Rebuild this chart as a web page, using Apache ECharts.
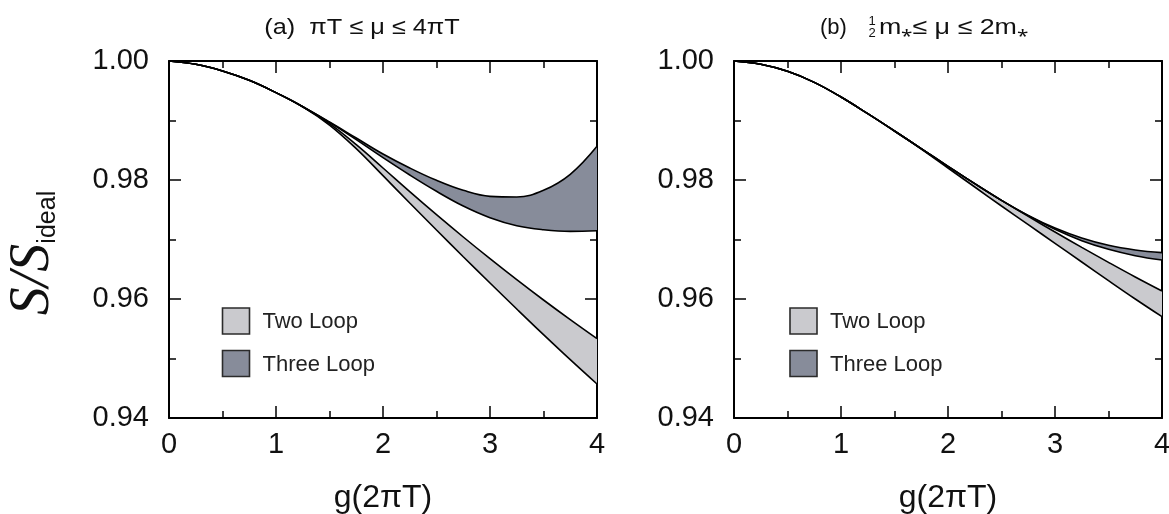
<!DOCTYPE html>
<html>
<head>
<meta charset="utf-8">
<script src="https://cdn.jsdelivr.net/npm/echarts@6/dist/echarts.min.js"></script>
<style>
  html, body { margin: 0; background: #fff; }
  #chart { width: 1169px; height: 514px; }
</style>
</head>
<body>
<div id="chart"></div>
<script>
// x: g(2 pi T)
const gValues = [0, 0.25, 0.5, 0.75, 1, 1.25, 1.5, 1.75, 2, 2.25, 2.5, 2.75, 3, 3.25, 3.5, 3.75, 4];
const xTicks = [0, 1, 2, 3, 4];
const yTicks = [0.94, 0.96, 0.98, 1.00];

// (a) pi T <= mu <= 4 pi T
const twoLoopLowA = [1, 0.99944, 0.99832, 0.99675, 0.99468, 0.99232, 0.98924, 0.98527, 0.98073, 0.97613, 0.97160, 0.96711, 0.96269, 0.95832, 0.95401, 0.94980, 0.94571];
const twoLoopHighA = [1, 0.99944, 0.99832, 0.99675, 0.99468, 0.99232, 0.98947, 0.98594, 0.98202, 0.97804, 0.97417, 0.97042, 0.96678, 0.96325, 0.95983, 0.95653, 0.95333];
const threeLoopLowA = [1, 0.99944, 0.99832, 0.99675, 0.99468, 0.99232, 0.98969, 0.98678, 0.98375, 0.98084, 0.97810, 0.97563, 0.97367, 0.97232, 0.97165, 0.97137, 0.97148];
const threeLoopHighA = [1, 0.99944, 0.99832, 0.99675, 0.99468, 0.99232, 0.98975, 0.98706, 0.98437, 0.98202, 0.97994, 0.97826, 0.97725, 0.97714, 0.97826, 0.98095, 0.98566];

// (b) m*/2 <= mu <= 2 m*
const twoLoopLowB = [1, 0.99944, 0.99826, 0.99641, 0.99395, 0.99115, 0.98824, 0.98521, 0.98202, 0.97882, 0.97563, 0.97249, 0.96936, 0.96622, 0.96308, 0.96000, 0.95703];
const twoLoopHighB = [1, 0.99944, 0.99826, 0.99641, 0.99395, 0.99115, 0.98824, 0.98527, 0.98230, 0.97938, 0.97658, 0.97389, 0.97126, 0.96868, 0.96616, 0.96370, 0.96134];
const threeLoopLowB = [1, 0.99944, 0.99826, 0.99641, 0.99395, 0.99115, 0.98824, 0.98527, 0.98230, 0.97938, 0.97658, 0.97401, 0.97171, 0.96980, 0.96835, 0.96728, 0.96655];
const threeLoopHighB = [1, 0.99944, 0.99826, 0.99641, 0.99395, 0.99115, 0.98824, 0.98527, 0.98230, 0.97938, 0.97658, 0.97406, 0.97193, 0.97025, 0.96902, 0.96824, 0.96779];

const FONT = 'Liberation Sans';
const lightFill = '#cacace';
const darkFill = '#878c9a';

function xAxis(gridIndex, position) {
  const bottom = position === 'bottom';
  return {
    type: 'value', gridIndex, position,
    min: xTicks[0], max: xTicks[xTicks.length - 1], interval: 1,
    axisLine: { show: true, onZero: false, lineStyle: { color: '#000', width: 2 } },
    axisTick: { show: true, inside: true, length: 12, lineStyle: { color: '#000', width: 1.5 } },
    minorTick: { show: true, splitNumber: 2, length: 7, lineStyle: { color: '#000', width: 1.5 } },
    splitLine: { show: false },
    axisLabel: { show: bottom, margin: 12, fontSize: 29, fontFamily: FONT, color: '#111' },
    name: bottom ? 'g(2πT)' : '',
    nameLocation: 'middle', nameGap: 64,
    nameTextStyle: { fontSize: 32, fontFamily: FONT, color: '#111' }
  };
}

function yAxis(gridIndex, position) {
  return {
    type: 'value', gridIndex, position,
    min: yTicks[0], max: yTicks[yTicks.length - 1], interval: 0.02,
    axisLine: { show: true, onZero: false, lineStyle: { color: '#000', width: 2 } },
    axisTick: { show: true, inside: true, length: 12, lineStyle: { color: '#000', width: 1.5 } },
    minorTick: { show: true, splitNumber: 2, length: 7, lineStyle: { color: '#000', width: 1.5 } },
    splitLine: { show: false },
    axisLabel: {
      show: position === 'left', margin: 20, fontSize: 29, fontFamily: FONT, color: '#111',
      formatter: v => v.toFixed(2)
    }
  };
}

// a band = lower edge line + difference stacked on it (filled down to the lower edge).
// value sits in column 0 so the stack works on y, by index.
function band(name, low, high, fill, axisIndex, stackId) {
  const common = {
    type: 'line', xAxisIndex: axisIndex, yAxisIndex: axisIndex, stack: stackId,
    encode: { x: 1, y: 0 },
    smooth: 0.4, symbol: 'none', silent: true,
    lineStyle: { color: '#000', width: 1.6 }
  };
  return [
    Object.assign({}, common, {
      name: name + ' lower',
      data: gValues.map((g, i) => [low[i], g])
    }),
    Object.assign({}, common, {
      name,
      data: gValues.map((g, i) => [high[i] - low[i], g]),
      areaStyle: { color: fill, opacity: 1 }
    })
  ];
}

function legendBox(x, y, fill, label) {
  return [
    { type: 'rect', shape: { x, y, width: 27, height: 26 },
      style: { fill, stroke: '#2b2b2b', lineWidth: 1.6 } },
    { type: 'text', x: x + 40, y: y + 14,
      style: { text: label, fontSize: 22, fontFamily: FONT, fill: '#222', align: 'left', verticalAlign: 'middle' } }
  ];
}

const chart = echarts.init(document.getElementById('chart'));

chart.setOption({
  animation: false,
  backgroundColor: '#fff',
  grid: [
    { left: 169, top: 61, width: 428, height: 357, outerBoundsMode: 'none' },
    { left: 734, top: 61, width: 428, height: 357, outerBoundsMode: 'none' }
  ],
  xAxis: [xAxis(0, 'bottom'), xAxis(0, 'top'), xAxis(1, 'bottom'), xAxis(1, 'top')],
  yAxis: [yAxis(0, 'left'), yAxis(0, 'right'), yAxis(1, 'left'), yAxis(1, 'right')],
  series: [
    ...band('Two Loop', twoLoopLowA, twoLoopHighA, lightFill, 0, 'a2'),
    ...band('Three Loop', threeLoopLowA, threeLoopHighA, darkFill, 0, 'a3'),
    ...band('Two Loop', twoLoopLowB, twoLoopHighB, lightFill, 2, 'b2'),
    ...band('Three Loop', threeLoopLowB, threeLoopHighB, darkFill, 2, 'b3')
  ],
  graphic: [
    { type: 'text', x: 362, y: 28, scaleX: 1.15,
      style: { text: '(a)  πT ≤ μ ≤ 4πT', fontSize: 22, fontFamily: FONT, fill: '#111', align: 'center', verticalAlign: 'middle' } },
    { type: 'text', x: 820, y: 28,
      style: { text: '(b)', fontSize: 22, fontFamily: FONT, fill: '#111', align: 'left', verticalAlign: 'middle' } },
    { type: 'text', x: 872, y: 21,
      style: { text: '1', fontSize: 13, fontFamily: FONT, fill: '#111', align: 'center', verticalAlign: 'middle' } },
    { type: 'text', x: 872, y: 33,
      style: { text: '2', fontSize: 13, fontFamily: FONT, fill: '#111', align: 'center', verticalAlign: 'middle' } },
    { type: 'text', x: 879, y: 28, scaleX: 1.22,
      style: { text: 'm{s|⁎}≤ μ ≤ 2m{s|⁎}', rich: { s: { fontSize: 17, fontFamily: FONT, fill: '#111' } },
        fontSize: 22, fontFamily: FONT, fill: '#111', align: 'left', verticalAlign: 'middle' } },
    { type: 'text', x: 33, y: 253, rotation: Math.PI / 2,
      style: {
        text: '{s|S/S}{sub|ideal}',
        rich: {
          s: { fontSize: 56, fontFamily: 'Liberation Serif', fontStyle: 'italic', fill: '#111' },
          sub: { fontSize: 25, fontFamily: FONT, fill: '#111', verticalAlign: 'bottom' }
        },
        align: 'center', verticalAlign: 'middle'
      } },
    ...legendBox(222.5, 308, lightFill, 'Two Loop'),
    ...legendBox(222.5, 350.5, darkFill, 'Three Loop'),
    ...legendBox(790, 308, lightFill, 'Two Loop'),
    ...legendBox(790, 350.5, darkFill, 'Three Loop')
  ]
});
</script>
</body>
</html>
